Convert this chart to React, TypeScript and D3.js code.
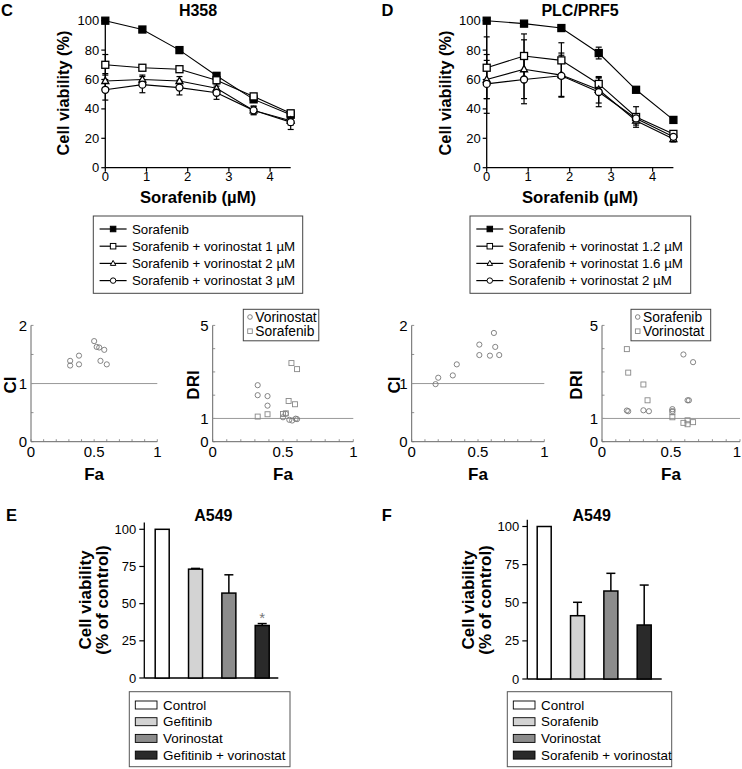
import React from 'react';
import * as d3 from 'd3';

const FONT = '"Liberation Sans", Arial, Helvetica, sans-serif';

// ---------- Panels C / D : dose response ----------
const doses = [0, 0.9, 1.8, 2.7, 3.6, 4.5];
const doseTicks = [0, 1, 2, 3, 4];
const viabilityTicks = [0, 20, 40, 60, 80, 100];

const h358Sorafenib = [100, 94, 80, 62.5, 46.5, 36];
const h358SorafenibErr = [1, 1, 1, 1.5, 2, 1.5];
const h358Vor1 = [70, 68, 67, 59.5, 48.5, 37];
const h358Vor1Err = [7, 2, 2, 2, 2, 2];
const h358Vor2 = [59, 60, 59, 54, 39, 32];
const h358Vor2Err = [5, 3, 3, 3, 3, 3];
const h358Vor3 = [53, 56.5, 54.5, 51, 39, 31];
const h358Vor3Err = [7, 5.5, 5, 4.5, 2.5, 5];
const h358Legend = [
  'Sorafenib',
  'Sorafenib + vorinostat 1 µM',
  'Sorafenib + vorinostat 2 µM',
  'Sorafenib + vorinostat 3 µM',
];

const plcSorafenib = [100, 98, 95, 78, 53, 32.5];
const plcSorafenibErr = [0.5, 1, 1.5, 4, 1.5, 1.5];
const plcVor12 = [68, 76, 73, 57, 34.5, 23];
const plcVor12Err = [21, 15, 12, 4, 7, 2];
const plcVor16 = [60, 67, 63, 53, 32, 19.5];
const plcVor16Err = [13, 20, 15, 9, 3, 2];
const plcVor2 = [57, 60, 62.5, 51.5, 33.5, 21];
const plcVor2Err = [20, 16.5, 14, 10, 3, 2];
const plcLegend = [
  'Sorafenib',
  'Sorafenib + vorinostat 1.2 µM',
  'Sorafenib + vorinostat 1.6 µM',
  'Sorafenib + vorinostat 2 µM',
];

const seriesMarkers = ['filledSquare', 'square', 'triangle', 'circle'];

// ---------- CI / DRI ----------
const faTicks = [0, 0.5, 1];
const ciTickLabels = [0, 1, 2];
const driTickLabels = [0, 1, 5];

const h358CiFa = [0.31, 0.31, 0.38, 0.38, 0.5, 0.52, 0.54, 0.58, 0.55, 0.6];
const h358Ci = [1.39, 1.31, 1.48, 1.33, 1.73, 1.63, 1.62, 1.58, 1.39, 1.33];
const h358DriVorFa = [0.32, 0.32, 0.39, 0.39, 0.5, 0.52, 0.545, 0.565, 0.59, 0.6];
const h358DriVor = [2.43, 2.0, 1.96, 1.55, 1.05, 1.2, 0.94, 0.91, 0.99, 0.97];
const h358DriSorFa = [0.32, 0.39, 0.5, 0.52, 0.54, 0.585, 0.56, 0.6];
const h358DriSor = [1.08, 1.18, 1.19, 1.22, 1.75, 1.61, 3.38, 3.12];

const plcCiFa = [0.18, 0.2, 0.31, 0.34, 0.51, 0.51, 0.59, 0.62, 0.63, 0.66];
const plcCi = [0.99, 1.1, 1.14, 1.33, 1.67, 1.49, 1.48, 1.87, 1.63, 1.49];
const plcDriSorFa = [0.18, 0.19, 0.3, 0.34, 0.51, 0.51, 0.62, 0.63, 0.59, 0.66];
const plcDriSor = [1.34, 1.31, 1.35, 1.31, 1.4, 1.32, 1.78, 1.78, 3.75, 3.42];
const plcDriVorFa = [0.18, 0.19, 0.3, 0.33, 0.51, 0.51, 0.59, 0.62, 0.62, 0.66];
const plcDriVor = [3.98, 2.97, 2.46, 1.78, 1.28, 1.05, 0.81, 0.92, 0.75, 0.84];

// ---------- Panels E / F : bars ----------
const barTicks = [0, 25, 50, 75, 100];
const eLabels = ['Control', 'Gefitinib', 'Vorinostat', 'Gefitinib + vorinostat'];
const eValues = [100, 73.2, 57.1, 35.3];
const eErrors = [0, 0.5, 12.3, 1.3];
const fLabels = ['Control', 'Sorafenib', 'Vorinostat', 'Sorafenib + vorinostat'];
const fValues = [100, 41.5, 57.7, 35.4];
const fErrors = [0, 8.8, 11.6, 26.2];
const barFills = ['#ffffff', '#d3d3d3', '#8c8c8c', '#2a2a2a'];

function Marker({ type, cx, cy, s = 7, stroke = '#000', sw = 1.2, fill }: any) {
  const f = fill !== undefined ? fill : type === 'filledSquare' ? '#000' : '#fff';
  if (type === 'filledSquare' || type === 'square') {
    return <rect x={cx - s / 2} y={cy - s / 2} width={s} height={s} fill={f} stroke={stroke} strokeWidth={sw} />;
  }
  if (type === 'triangle') {
    const h = s * 0.9;
    const pts = `${cx},${cy - h * 0.6} ${cx - s / 2},${cy + h * 0.4} ${cx + s / 2},${cy + h * 0.4}`;
    return <polygon points={pts} fill={f} stroke={stroke} strokeWidth={sw} />;
  }
  return <circle cx={cx} cy={cy} r={s / 2} fill={f} stroke={stroke} strokeWidth={sw} />;
}

function DoseChart({ letter, letterX, title, xRange, values, errs, legend, legendBox }: any) {
  const x = d3.scaleLinear().domain([0, 4.5]).range(xRange);
  const y = d3.scaleLinear().domain([0, 100]).range([167.7, 20.7]);
  const line = d3
    .line<number>()
    .x((_, i) => x(doses[i]))
    .y((d) => y(d));
  const x0 = x(0);
  const cx = (xRange[0] + xRange[1]) / 2;
  const [lx, lw] = legendBox;
  return (
    <g>
      <text x={letterX} y={15.5} fontSize={16.5} fontWeight="bold">{letter}</text>
      <text x={cx} y={15.8} fontSize={16} fontWeight="bold" textAnchor="middle">{title}</text>
      <line x1={x0} x2={x0} y1={y(0)} y2={y(100)} stroke="#000" strokeWidth={1.3} />
      <line x1={x0} x2={x(4.5)} y1={y(0)} y2={y(0)} stroke="#000" strokeWidth={1.3} />
      {viabilityTicks.map((t) => (
        <g key={'y' + t}>
          <line x1={x0 - 4} x2={x0} y1={y(t)} y2={y(t)} stroke="#000" strokeWidth={1.2} />
          <text x={x0 - 6} y={y(t)} dy="0.35em" textAnchor="end" fontSize={13}>{t}</text>
        </g>
      ))}
      {doseTicks.map((t) => (
        <g key={'x' + t}>
          <line x1={x(t)} x2={x(t)} y1={y(0)} y2={y(0) + 4} stroke="#000" strokeWidth={1.2} />
          <text x={x(t)} y={y(0) + 13} textAnchor="middle" fontSize={13}>{t}</text>
        </g>
      ))}
      <text
        transform={`translate(${x0 - 42},93) rotate(-90)`}
        textAnchor="middle"
        dominantBaseline="central"
        fontSize={16.3}
        fontWeight="bold"
      >
        Cell viability (%)
      </text>
      <text x={cx} y={203} textAnchor="middle" fontSize={16.7} fontWeight="bold">Sorafenib (µM)</text>
      {values.map((vals: number[], si: number) => (
        <g key={'e' + si}>
          {vals.map((v, j) => {
            const e = errs[si][j];
            const xx = x(doses[j]);
            return (
              <g key={j} stroke="#000" strokeWidth={1.2}>
                <line x1={xx} x2={xx} y1={y(v - e)} y2={y(v + e)} />
                <line x1={xx - 3} x2={xx + 3} y1={y(v - e)} y2={y(v - e)} />
                <line x1={xx - 3} x2={xx + 3} y1={y(v + e)} y2={y(v + e)} />
              </g>
            );
          })}
        </g>
      ))}
      {values.map((vals: number[], si: number) => (
        <path key={'l' + si} d={line(vals) || ''} fill="none" stroke="#000" strokeWidth={1.1} />
      ))}
      {values.map((vals: number[], si: number) => (
        <g key={'m' + si}>
          {vals.map((v, j) => (
            <Marker key={j} type={seriesMarkers[si]} cx={x(doses[j])} cy={y(v)} s={7} sw={1.3} />
          ))}
        </g>
      ))}
      <rect x={lx} y={216} width={lw} height={77.3} fill="#fff" stroke="#444" strokeWidth={1} />
      {legend.map((lab: string, i: number) => {
        const ry = 229 + i * 17.2;
        return (
          <g key={'lg' + i}>
            <line x1={lx + 6.3} x2={lx + 33.3} y1={ry} y2={ry} stroke="#000" strokeWidth={1.2} />
            <Marker type={seriesMarkers[i]} cx={lx + 19.8} cy={ry} s={5.5} sw={1} />
            <text x={lx + 38.6} y={ry} dy="0.35em" fontSize={13.3}>{lab}</text>
          </g>
        );
      })}
    </g>
  );
}

function FaPanel({ xRange, yMax, yStep, yLabels, title, titleX, groups, legendBox }: any) {
  const x = d3.scaleLinear().domain([0, 1]).range(xRange);
  const y = d3.scaleLinear().domain([0, yMax]).range([441.7, 325.4]);
  const x0 = x(0);
  const minorX = d3.range(0, 1.0001, 0.1);
  const minorY = d3.range(0, yMax + 0.001, yStep);
  const cx = (xRange[0] + xRange[1]) / 2;
  return (
    <g>
      <line x1={x0} x2={x0} y1={y(0)} y2={y(yMax)} stroke="#666" strokeWidth={1} />
      <line x1={x0} x2={x(1)} y1={y(0)} y2={y(0)} stroke="#666" strokeWidth={1} />
      {minorX.map((t, i) => (
        <line key={'mx' + i} x1={x(t)} x2={x(t)} y1={y(0)} y2={y(0) - 2.5} stroke="#777" strokeWidth={0.8} />
      ))}
      {minorY.map((t, i) => (
        <line key={'my' + i} x1={x0} x2={x0 + 2.5} y1={y(t)} y2={y(t)} stroke="#777" strokeWidth={0.8} />
      ))}
      <line x1={x0} x2={x(1)} y1={y(1)} y2={y(1)} stroke="#999" strokeWidth={1} />
      {yLabels.map((t: number) => (
        <text key={'yl' + t} x={x0 - 4} y={y(t)} dy="0.35em" textAnchor="end" fontSize={15}>{t}</text>
      ))}
      {faTicks.map((t) => {
        const px = x(t);
        const clipped = px > 736;
        return (
          <text key={'xl' + t} x={clipped ? 741 : px} y={457} textAnchor={clipped ? 'end' : 'middle'} fontSize={15}>{t}</text>
        );
      })}
      <text
        transform={`translate(${titleX},385) rotate(-90)`}
        textAnchor="middle"
        dominantBaseline="central"
        fontSize={17}
        fontWeight="bold"
      >
        {title}
      </text>
      <text x={cx} y={480} textAnchor="middle" fontSize={17} fontWeight="bold">Fa</text>
      {groups.map((g: any, gi: number) => (
        <g key={'g' + gi}>
          {g.fa.map((f: number, j: number) => (
            <Marker key={j} type={g.shape} cx={x(f)} cy={y(g.vals[j])} s={g.shape === 'circle' ? 5.2 : 5} stroke={g.color} sw={0.9} fill="none" />
          ))}
        </g>
      ))}
      {legendBox && (
        <g>
          <rect x={legendBox[0]} y={309.3} width={legendBox[1]} height={31.5} fill="#fff" stroke="#444" strokeWidth={1} />
          {groups.map((g: any, gi: number) => {
            const ry = 317 + gi * 14.2;
            return (
              <g key={'lgd' + gi}>
                <Marker type={g.shape} cx={legendBox[0] + 6.7} cy={ry} s={4.6} stroke={g.color} sw={0.9} fill="none" />
                <text x={legendBox[0] + 12} y={ry} dy="0.35em" fontSize={13.8}>{g.name}</text>
              </g>
            );
          })}
        </g>
      )}
    </g>
  );
}

function BarPanel({ letter, letterX, title, titleX, axisX, centers, yRange, labels, values, errs, yLabelX, legendBox, star }: any) {
  const y = d3.scaleLinear().domain([0, 100]).range(yRange);
  const x = d3.scalePoint<string>().domain(labels).range(centers);
  const bw = 14;
  const [x0, x1] = axisX;
  const [bx, bwid] = legendBox;
  return (
    <g>
      <text x={letterX} y={520.5} fontSize={16.5} fontWeight="bold">{letter}</text>
      <text x={titleX} y={520.5} fontSize={16} fontWeight="bold" textAnchor="middle">{title}</text>
      <line x1={x0} x2={x0} y1={y(0)} y2={y(104.5)} stroke="#000" strokeWidth={1.3} />
      <line x1={x0} x2={x1} y1={y(0)} y2={y(0)} stroke="#000" strokeWidth={1.3} />
      {barTicks.map((t) => (
        <g key={'t' + t}>
          <line x1={x0 - 5} x2={x0} y1={y(t)} y2={y(t)} stroke="#000" strokeWidth={1.2} />
          <text x={x0 - 8} y={y(t)} dy="0.35em" textAnchor="end" fontSize={13}>{t}</text>
        </g>
      ))}
      <text transform={`translate(${yLabelX[0]},600) rotate(-90)`} textAnchor="middle" dominantBaseline="central" fontSize={17} fontWeight="bold">
        Cell viability
      </text>
      <text transform={`translate(${yLabelX[1]},600) rotate(-90)`} textAnchor="middle" dominantBaseline="central" fontSize={17} fontWeight="bold">
        (% of control)
      </text>
      {labels.map((lab: string, i: number) => {
        const cx = x(lab) as number;
        const v = values[i];
        const e = errs[i];
        return (
          <g key={'b' + i}>
            {e > 0 && (
              <g stroke="#000" strokeWidth={1.5}>
                <line x1={cx} x2={cx} y1={y(v)} y2={y(v + e)} />
                <line x1={cx - 4.5} x2={cx + 4.5} y1={y(v + e)} y2={y(v + e)} />
              </g>
            )}
            <rect x={cx - bw / 2} y={y(v)} width={bw} height={y(0) - y(v)} fill={barFills[i]} stroke="#000" strokeWidth={1.5} />
          </g>
        );
      })}
      {star && (
        <text x={x(labels[3]) as number} y={y(values[3] + errs[3]) - 1} textAnchor="middle" fontSize={15} fill="#777">*</text>
      )}
      <rect x={bx} y={691.7} width={bwid} height={75} fill="#fff" stroke="#555" strokeWidth={1} />
      {labels.map((lab: string, i: number) => {
        const ry = 705 + i * 16.7;
        return (
          <g key={'lg' + i}>
            <rect x={bx + 6} y={ry - 4} width={21.7} height={8} fill={barFills[i]} stroke="#000" strokeWidth={0.9} />
            <text x={bx + 33.8} y={ry} dy="0.35em" fontSize={13.4}>{lab}</text>
          </g>
        );
      })}
    </g>
  );
}

export default function App() {
  return (
    <svg
      width={742}
      height={769}
      viewBox="0 0 742 769"
      style={{ position: 'absolute', left: 0, top: 0, background: '#fff' }}
      fontFamily={FONT}
    >
      <rect x={0} y={0} width={742} height={769} fill="#fff" />
      <DoseChart
        letter="C"
        letterX={1}
        title="H358"
        xRange={[105.3, 290.7]}
        values={[h358Sorafenib, h358Vor1, h358Vor2, h358Vor3]}
        errs={[h358SorafenibErr, h358Vor1Err, h358Vor2Err, h358Vor3Err]}
        legend={h358Legend}
        legendBox={[93.3, 209.4]}
      />
      <DoseChart
        letter="D"
        letterX={381.5}
        title="PLC/PRF5"
        xRange={[486.7, 673.4]}
        values={[plcSorafenib, plcVor12, plcVor16, plcVor2]}
        errs={[plcSorafenibErr, plcVor12Err, plcVor16Err, plcVor2Err]}
        legend={plcLegend}
        legendBox={[470, 220.7]}
      />
      <FaPanel
        xRange={[31, 157.3]}
        yMax={2}
        yStep={0.5}
        yLabels={ciTickLabels}
        title="CI"
        titleX={10.5}
        groups={[{ fa: h358CiFa, vals: h358Ci, shape: 'circle', color: '#777' }]}
      />
      <FaPanel
        xRange={[212.7, 353.3]}
        yMax={5}
        yStep={1}
        yLabels={driTickLabels}
        title="DRI"
        titleX={193}
        groups={[
          { fa: h358DriVorFa, vals: h358DriVor, shape: 'circle', color: '#777', name: 'Vorinostat' },
          { fa: h358DriSorFa, vals: h358DriSor, shape: 'square', color: '#888', name: 'Sorafenib' },
        ]}
        legendBox={[243.3, 75.5]}
      />
      <FaPanel
        xRange={[411.7, 544.3]}
        yMax={2}
        yStep={0.5}
        yLabels={ciTickLabels}
        title="CI"
        titleX={394.5}
        groups={[{ fa: plcCiFa, vals: plcCi, shape: 'circle', color: '#777' }]}
      />
      <FaPanel
        xRange={[602, 740]}
        yMax={5}
        yStep={1}
        yLabels={driTickLabels}
        title="DRI"
        titleX={576.5}
        groups={[
          { fa: plcDriSorFa, vals: plcDriSor, shape: 'circle', color: '#777', name: 'Sorafenib' },
          { fa: plcDriVorFa, vals: plcDriVor, shape: 'square', color: '#888', name: 'Vorinostat' },
        ]}
        legendBox={[631, 79.7]}
      />
      <BarPanel
        letter="E"
        letterX={6}
        title="A549"
        titleX={213.3}
        axisX={[144.3, 278.3]}
        centers={[162.2, 262.2]}
        yRange={[678, 529.3]}
        labels={eLabels}
        values={eValues}
        errs={eErrors}
        yLabelX={[85, 102.5]}
        legendBox={[129.3, 160.7]}
        star
      />
      <BarPanel
        letter="F"
        letterX={381.7}
        title="A549"
        titleX={591.7}
        axisX={[527.3, 661.7]}
        centers={[544.2, 644.2]}
        yRange={[679, 526.5]}
        labels={fLabels}
        values={fValues}
        errs={fErrors}
        yLabelX={[468.3, 485.7]}
        legendBox={[507.3, 164.4]}
      />
    </svg>
  );
}
